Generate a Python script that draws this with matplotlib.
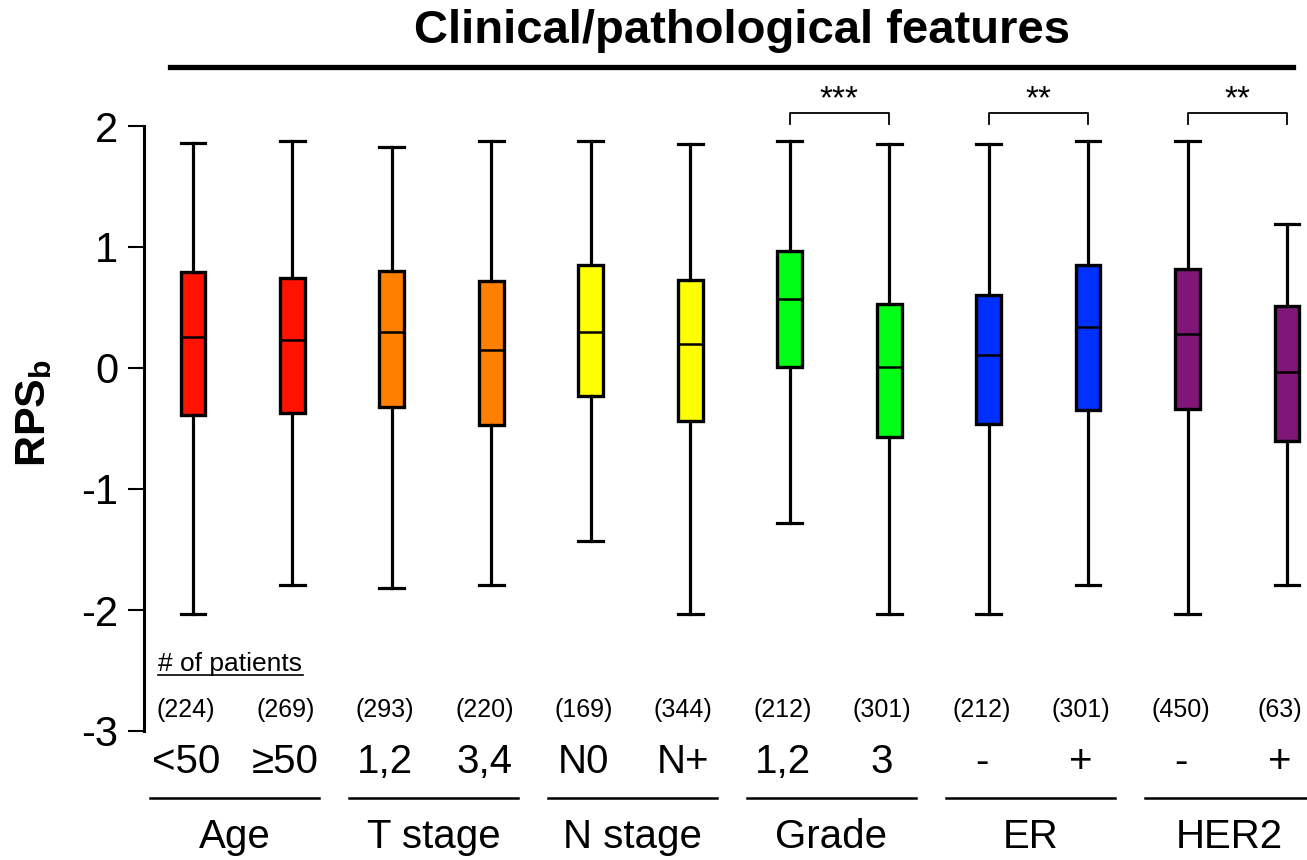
import matplotlib
matplotlib.use("Agg")
import matplotlib.pyplot as plt
from matplotlib.lines import Line2D
from matplotlib import font_manager as fm

# ---------------- data ----------------
categories = ['<50', '≥50', '1,2', '3,4', 'N0', 'N+', '1,2', '3', '-', '+', '-', '+']
groups = ['Age', 'T stage', 'N stage', 'Grade', 'ER', 'HER2']
counts = [224, 269, 293, 220, 169, 344, 212, 301, 212, 301, 450, 63]
whis_hi = [1.86, 1.88, 1.83, 1.88, 1.88, 1.85, 1.88, 1.85, 1.85, 1.88, 1.88, 1.19]
q3 = [0.79, 0.74, 0.80, 0.72, 0.85, 0.73, 0.97, 0.53, 0.60, 0.85, 0.82, 0.51]
median = [0.26, 0.23, 0.30, 0.15, 0.30, 0.20, 0.57, 0.01, 0.11, 0.34, 0.28, -0.03]
q1 = [-0.39, -0.37, -0.32, -0.47, -0.23, -0.44, 0.01, -0.57, -0.46, -0.35, -0.34, -0.60]
whis_lo = [-2.03, -1.79, -1.82, -1.79, -1.43, -2.03, -1.28, -2.03, -2.03, -1.79, -2.03, -1.79]
colors = ['#FF1200', '#FF1200', '#FF8000', '#FF8000', '#FFFF00', '#FFFF00',
          '#00FF14', '#00FF14', '#0030FF', '#0030FF', '#801678', '#801678']
significance = [(7, 8, '***'), (9, 10, '**'), (11, 12, '**')]

# ---------------- fonts ----------------
installed = {f.name for f in fm.fontManager.ttflist}
base = ['Liberation Sans', 'DejaVu Sans']
narrow = (['Liberation Sans Narrow'] if 'Liberation Sans Narrow' in installed else []) + base
plt.rcParams['font.family'] = base
plt.rcParams['mathtext.fontset'] = 'custom'
plt.rcParams['mathtext.bf'] = 'Liberation Sans:bold'
plt.rcParams['mathtext.rm'] = 'Liberation Sans'

W, H = 1307, 860
fig = plt.figure(figsize=(W / 100, H / 100), dpi=100)

# axes placement (pixel based)
ax_left_px, ax_top_px, ax_bot_px = 144, 126, 731
ax = fig.add_axes([ax_left_px / W, (H - ax_bot_px) / H, 1 - ax_left_px / W, (ax_bot_px - ax_top_px) / H])
x0_px, dx_px = 193, 99.45
ax.set_xlim(1 + (ax_left_px - x0_px) / dx_px, 1 + (W - x0_px) / dx_px)
ax.set_ylim(-3, 2)

positions = list(range(1, len(categories) + 1))
stats = []
for i in range(len(categories)):
    stats.append(dict(med=median[i], q1=q1[i], q3=q3[i], whislo=whis_lo[i],
                      whishi=whis_hi[i], fliers=[], label=categories[i]))

bp = ax.bxp(stats, positions=positions, widths=0.25, patch_artist=True,
            showfliers=False, capwidths=0.25,
            boxprops=dict(linewidth=2.4, edgecolor='black'),
            whiskerprops=dict(linewidth=2.3, color='black'),
            capprops=dict(linewidth=2.3, color='black'),
            medianprops=dict(linewidth=1.8, color='black'))
for patch, c in zip(bp['boxes'], colors):
    patch.set_facecolor(c)

# axis styling
for s in ['top', 'right', 'bottom']:
    ax.spines[s].set_visible(False)
ax.spines['left'].set_linewidth(2.2)
ax.spines['left'].set_bounds(-3, 2)
ax.set_yticks([-3, -2, -1, 0, 1, 2])
ax.set_yticklabels(['-3', '-2', '-1', '0', '1', '2'])
ax.tick_params(axis='y', length=11.5, width=1.5, labelsize=30, pad=7)
ax.set_xticks([])

# y label
fig.text(34 / W, 1 - 413 / H, r'$\mathbf{RPS_b}$', rotation=90, ha='center', va='center', fontsize=31)

# patients label & counts
ax.text(0.65, -2.45, '# of patients', ha='left', va='center', fontsize=19, clip_on=False)
ax.plot([0.65, 2.11], [-2.54, -2.54], color='black', lw=1.2, clip_on=False)
for p, n in zip(positions, counts):
    ax.text(p - 0.07, -2.83, f'({n})', ha='center', va='center', fontsize=18, clip_on=False)

# category labels
for p, c in zip(positions, categories):
    ax.text(p - 0.07, -3.26, c, ha='center', va='center', fontsize=29, clip_on=False)

# group lines and labels
for gi, g in enumerate(groups):
    a, b = positions[2 * gi], positions[2 * gi + 1]
    cx = (a + b) / 2 - 0.08
    ax.plot([cx - 0.85, cx + 0.85], [-3.55, -3.55], color='black', lw=1.8, clip_on=False)
    ax.text(cx, -3.88, g, ha='center', va='center', fontsize=29, clip_on=False)

# significance brackets
for a, b, star in significance:
    ax.plot([a, a, b, b], [2.02, 2.11, 2.11, 2.02], color='black', lw=1.3, clip_on=False)
    ax.text((a + b) / 2, 2.085, star, ha='center', va='bottom', fontsize=24, clip_on=False)

# title and rule
fig.text(742 / W, 1 - 31 / H, 'Clinical/pathological features', ha='center', va='center',
         fontsize=34, fontweight='bold', family=narrow)
fig.add_artist(Line2D([170 / W, 1293 / W], [1 - 67 / H, 1 - 67 / H], color='black', lw=3.8,
                      transform=fig.transFigure))

fig.savefig('out.png', dpi=100)
